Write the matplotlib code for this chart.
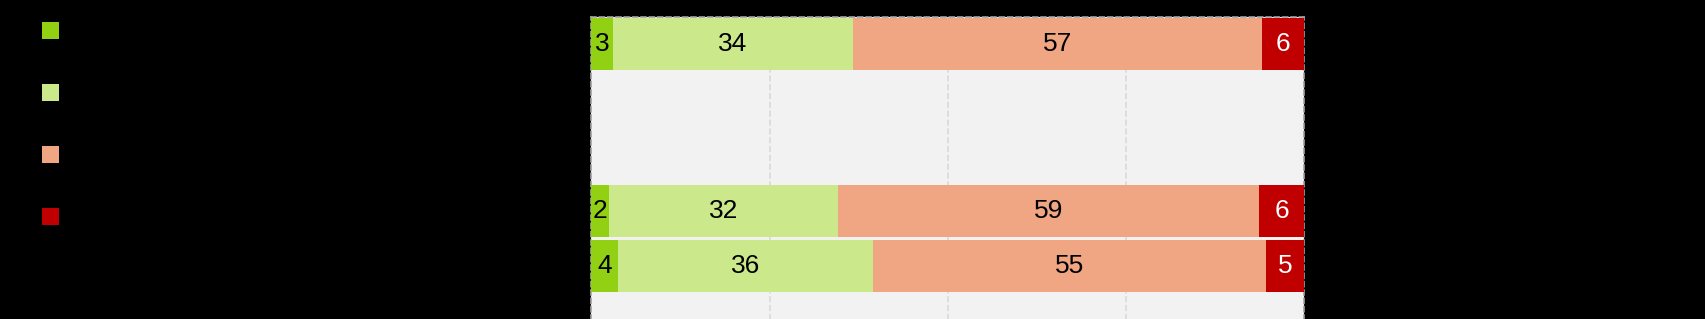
import numpy as np
import matplotlib
matplotlib.use('Agg')
import matplotlib.pyplot as plt
from matplotlib.patches import Patch

# ------------------------------------------------------------------ #
#  Data                                                               #
# ------------------------------------------------------------------ #
categories = ['KAIKKI VASTAAJAT (n=867)', '', 'SUKUPUOLESI',
              'Nainen (n=610)', 'Mies (n=252)']
series = ['Erittäin paljon', 'Melko paljon', 'Melko vähän', 'Ei lainkaan']

erittain_paljon = [3.0, np.nan, np.nan, 2.4, 3.7]
melko_paljon = [33.7, np.nan, np.nan, 32.2, 35.8]
melko_vahan = [57.4, np.nan, np.nan, 59.1, 55.2]
ei_lainkaan = [5.9, np.nan, np.nan, 6.3, 5.3]

colors = ['#92D014', '#CBE88B', '#F0A583', '#C00000']
text_colors = ['black', 'black', 'black', 'white']

plt.rcParams['font.family'] = ['Liberation Sans Narrow', 'Liberation Sans', 'DejaVu Sans']

fig = plt.figure(figsize=(17.06, 3.19), dpi=100, facecolor='black')
W, H = 1706, 319
slot = 55.4
ax_left, ax_right, ax_top = 591.5, 1304, 16.7
n_slots = 6
ax = fig.add_axes([ax_left / W, 1 - (ax_top + n_slots * slot) / H,
                   (ax_right - ax_left) / W, n_slots * slot / H])
ax.set_facecolor('#F2F2F2')

y = np.arange(len(categories))
left = np.zeros(len(categories))
handles = []
for vals, col, tcol, name in zip(
        [erittain_paljon, melko_paljon, melko_vahan, ei_lainkaan],
        colors, text_colors, series):
    vals = np.array(vals, dtype=float)
    w = np.nan_to_num(vals)
    bars = ax.barh(y, w, left=left, height=0.94, color=col, zorder=3,
                   edgecolor='none')
    for rect, v in zip(bars, vals):
        if np.isnan(v):
            continue
        ax.text(rect.get_x() + rect.get_width() / 2,
                rect.get_y() + rect.get_height() / 2,
                f'{v:.0f}', ha='center', va='center',
                fontsize=19, color=tcol, zorder=4)
    left += w
    handles.append(Patch(facecolor=col, edgecolor='none', label=name))

ax.set_xlim(0, 100)
ax.set_ylim(n_slots - 0.5, -0.5)
ax.set_xticks([25, 50, 75])
ax.tick_params(axis='x', length=0, labelbottom=False)
ax.grid(axis='x', color='#D9D9D9', linestyle='--', linewidth=1.2, zorder=0)
ax.set_yticks(y)
ax.set_yticklabels(categories, fontsize=18, color='black')
ax.tick_params(axis='y', length=0, pad=16)
for s in ax.spines.values():
    s.set_color('#A0A0A0')
    s.set_linestyle((0, (3, 2)))
    s.set_linewidth(1.2)

fig.legend(handles=handles, loc='upper left', bbox_to_anchor=(42 / W, 1 - 20 / H),
           frameon=False, fontsize=18, labelcolor='black',
           handlelength=0.7, handleheight=0.7, handletextpad=0.35,
           labelspacing=1.52, borderpad=0, borderaxespad=0)

fig.savefig('out.png', dpi=100, facecolor='black')
